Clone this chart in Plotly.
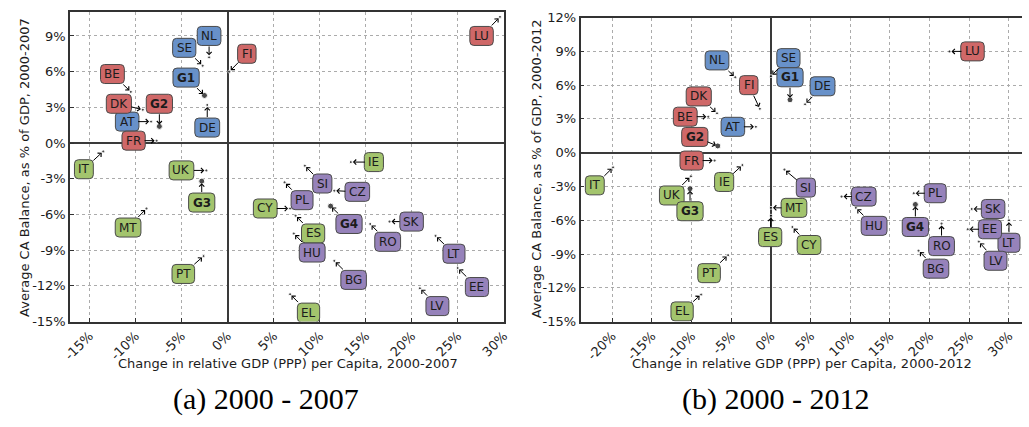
import plotly.graph_objects as go

# Countries / country groups shown in both panels
countries = ["NL", "SE", "G1", "AT", "DE",
             "FI", "BE", "DK", "G2", "FR", "LU",
             "IT", "UK", "G3", "MT", "PT", "CY", "EL", "IE", "ES",
             "SI", "CZ", "PL", "G4", "HU", "SK", "RO", "LT", "BG", "EE", "LV"]
cluster = ["G1", "G1", "G1", "G1", "G1",
           "G2", "G2", "G2", "G2", "G2", "G2",
           "G3", "G3", "G3", "G3", "G3", "G3", "G3", "G3", "G3",
           "G4", "G4", "G4", "G4", "G4", "G4", "G4", "G4", "G4", "G4", "G4"]

# Change in relative GDP (PPP) per capita, % and average CA balance, % of GDP
gdp_0007 = [-2.0, -2.7, -2.5, -8.3, -2.2,
            0.2, -10.5, -9.2, -7.4, -7.7, 29.6,
            -13.5, -2.3, -2.8, -8.8, -2.6, 6.8, 6.8, 13.4, 7.4,
            8.4, 11.6, 6.2, 11.2, 7.2, 17.6, 15.5, 22.6, 11.6, 25.0, 20.9]
ca_0007 = [7.2, 6.5, 4.0, 1.8, 3.2,
           6.0, 4.3, 2.8, 1.4, 0.2, 10.6,
           -0.7, -2.3, -3.2, -5.5, -9.5, -5.5, -12.7, -1.6, -6.1,
           -1.9, -4.0, -3.3, -5.3, -7.6, -6.6, -6.8, -7.8, -9.9, -10.5, -12.2]

gdp_0012 = [-4.5, 0.0, 2.4, -1.9, 4.3,
            -1.4, -7.9, -6.8, -6.7, -7.1, 22.5,
            -19.9, -10.1, -10.2, 0.0, -5.4, 2.7, -8.8, -3.6, 0.0,
            1.7, 8.9, 18.0, 18.2, 10.7, 25.3, 21.5, 30.0, 18.6, 24.8, 26.2]
ca_0012 = [6.7, 6.8, 4.7, 2.3, 4.3,
           3.9, 3.2, 3.5, 0.6, -0.7, 9.0,
           -1.3, -2.1, -3.2, -4.9, -9.1, -6.6, -12.6, -1.1, -5.6,
           -1.5, -3.9, -3.6, -4.6, -4.9, -5.0, -6.3, -6.0, -8.7, -6.8, -7.9]

# Tick values (labels are built from them)
xticks_0007 = [-15, -10, -5, 0, 5, 10, 15, 20, 25, 30]
xticks_0012 = [-20, -15, -10, -5, 0, 5, 10, 15, 20, 25, 30]
yticks_0007 = [-15, -12, -9, -6, -3, 0, 3, 6, 9]
yticks_0012 = [-15, -12, -9, -6, -3, 0, 3, 6, 9, 12]

# Where each label box sits (axis units), chosen to keep the boxes apart
label_at_0007 = {
    "NL": (-2.0, 9.0), "SE": (-4.7, 8.0), "G1": (-4.5, 5.5), "AT": (-10.9, 1.8),
    "DE": (-2.2, 1.3), "FI": (2.1, 7.5), "BE": (-12.5, 5.8), "DK": (-11.8, 3.3),
    "G2": (-7.4, 3.3), "FR": (-10.2, 0.2), "LU": (27.6, 9.0), "IT": (-15.6, -2.2),
    "UK": (-5.0, -2.3), "G3": (-2.8, -5.0), "MT": (-10.8, -7.1), "PT": (-4.8, -11.0),
    "CY": (4.1, -5.5), "EL": (8.8, -14.25), "IE": (15.9, -1.6), "ES": (9.3, -7.6),
    "SI": (10.3, -3.4), "CZ": (14.1, -4.1), "PL": (8.1, -4.8), "G4": (13.2, -6.8),
    "HU": (9.2, -9.2), "SK": (20.0, -6.6), "RO": (17.4, -8.3), "LT": (24.6, -9.3),
    "BG": (13.7, -11.5), "EE": (27.1, -12.1), "LV": (22.8, -13.7),
}
label_at_0012 = {
    "NL": (-6.8, 8.2), "SE": (2.2, 8.4), "G1": (2.4, 6.7), "AT": (-4.8, 2.3),
    "DE": (6.5, 5.9), "FI": (-2.8, 6.0), "BE": (-10.8, 3.2), "DK": (-9.1, 5.0),
    "G2": (-9.6, 1.4), "FR": (-10.0, -0.7), "LU": (25.4, 9.0), "IT": (-22.2, -2.9),
    "UK": (-12.5, -3.8), "G3": (-10.2, -5.2), "MT": (2.9, -4.9), "PT": (-7.8, -10.7),
    "CY": (4.8, -8.2), "EL": (-11.2, -14.1), "IE": (-5.9, -2.6), "ES": (-0.1, -7.5),
    "SI": (4.4, -3.1), "CZ": (11.7, -3.9), "PL": (20.7, -3.6), "G4": (18.2, -6.6),
    "HU": (13.0, -6.5), "SK": (28.0, -5.0), "RO": (21.5, -8.3), "LT": (30.0, -8.0),
    "BG": (20.8, -10.3), "EE": (27.6, -6.8), "LV": (28.3, -9.6),
}

FILL = {"G1": "#6891c9", "G2": "#cf6868", "G3": "#a3c46d", "G4": "#9682ba"}
FONT = "DejaVu Sans"
INK = "#1c1c1c"

# approximate DejaVu Sans advance widths (em) used to size the label boxes
ADV = {"A": .684, "B": .686, "C": .698, "D": .770, "E": .632, "F": .575, "G": .775,
       "H": .752, "I": .295, "K": .656, "L": .557, "M": .863, "N": .748, "O": .787,
       "P": .603, "R": .695, "S": .635, "T": .611, "U": .732, "V": .684, "Y": .611,
       "Z": .685}


def is_group(code):
    return code.startswith("G") and code[1:].isdigit()


def box_width(code, size=12):
    if is_group(code):
        return (0.821 + 0.696) * size + 8
    return sum(ADV.get(ch, 0.636) for ch in code) * size + 8


def rounded_box(w, h, r):
    a, b = w / 2, h / 2
    return (f"M{-a + r},{-b} L{a - r},{-b} Q{a},{-b} {a},{-b + r} "
            f"L{a},{b - r} Q{a},{b} {a - r},{b} L{-a + r},{b} "
            f"Q{-a},{b} {-a},{b - r} L{-a},{-b + r} Q{-a},{-b} {-a + r},{-b} Z")


fig = go.Figure()
shapes, annotations = [], []

panels = [
    ("x", "y", gdp_0007, ca_0007, label_at_0007),
    ("x2", "y2", gdp_0012, ca_0012, label_at_0012),
]
for xr, yr, gx, cy, label_at in panels:
    fig.add_trace(go.Scatter(
        x=gx, y=cy, mode="markers", xaxis=xr, yaxis=yr, showlegend=False,
        marker=dict(color="black", size=[6 if is_group(c) else 3 for c in countries]),
        hoverinfo="skip"))
    for code, grp, px, py in zip(countries, cluster, gx, cy):
        lx, ly = label_at[code]
        shapes.append(dict(
            type="path", xref=xr, yref=yr, xsizemode="pixel", ysizemode="pixel",
            xanchor=lx, yanchor=ly, path=rounded_box(box_width(code), 19, 4),
            fillcolor=FILL[grp], line=dict(color="#4a4a4a", width=1), layer="above"))
        annotations.append(dict(
            x=px, y=py, xref=xr, yref=yr, ax=lx, ay=ly, axref=xr, ayref=yr,
            text=f"<b>{code}</b>" if is_group(code) else code,
            font=dict(family=FONT, size=12, color=INK),
            showarrow=True, arrowhead=4, arrowsize=1, arrowwidth=1,
            arrowcolor="black", standoff=2, borderpad=3,
            xanchor="center", yanchor="middle"))

axis_common = dict(
    showgrid=True, gridcolor="#ababab", griddash="dot", gridwidth=1,
    zeroline=True, zerolinecolor="#3a3a3a", zerolinewidth=1.5,
    showline=True, linecolor="#333333", linewidth=1.5,
    ticks="inside", ticklen=4, tickcolor="#333333",
    tickfont=dict(family=FONT, size=13, color=INK),
)

fig.update_layout(
    width=1029, height=427,
    margin=dict(l=0, r=0, t=0, b=0),
    paper_bgcolor="white", plot_bgcolor="white",
    xaxis=dict(axis_common, domain=[63 / 1029, 503 / 1029], range=[-17.1, 30.0],
               tickvals=xticks_0007, ticktext=[f"{v}%" for v in xticks_0007],
               tickangle=-45, mirror=True, anchor="y"),
    yaxis=dict(axis_common, domain=[1 - 326 / 427, 1 - 5.7 / 427], range=[-15, 10.97],
               tickvals=yticks_0007, ticktext=[f"{v}%" for v in yticks_0007],
               mirror=True, anchor="x"),
    xaxis2=dict(axis_common, domain=[581 / 1029, 1.0], range=[-24.0, 31.64],
                tickvals=xticks_0012, ticktext=[f"{v}%" for v in xticks_0012],
                tickangle=-45, mirror=True, anchor="y2"),
    yaxis2=dict(axis_common, domain=[1 - 326 / 427, 1 - 11 / 427], range=[-15, 12],
                tickvals=yticks_0012, ticktext=[f"{v}%" for v in yticks_0012],
                mirror=False, anchor="x2"),
    shapes=shapes,
)

title_font = dict(family=FONT, size=13, color=INK)
caption_font = dict(family="Liberation Serif", size=30, color="black")


def paper_text(text, px, py, font, angle=0):
    return dict(text=text, x=px / 1029, y=1 - py / 427, xref="paper", yref="paper",
                xanchor="center", yanchor="middle", showarrow=False,
                textangle=angle, font=font)


annotations += [
    paper_text("Change in relative GDP (PPP) per Capita, 2000-2007", 284, 369, title_font),
    paper_text("Change in relative GDP (PPP) per Capita, 2000-2012", 806, 369, title_font),
    paper_text("Average CA Balance, as % of GDP, 2000-2007", 16, 166, title_font, -90),
    paper_text("Average CA Balance, as % of GDP, 2000-2012", 536, 168, title_font, -90),
    paper_text("(a) 2000 - 2007", 262, 406, caption_font),
    paper_text("(b) 2000 - 2012", 779, 406, caption_font),
]
fig.update_layout(annotations=annotations)

fig.write_html("out.html")
